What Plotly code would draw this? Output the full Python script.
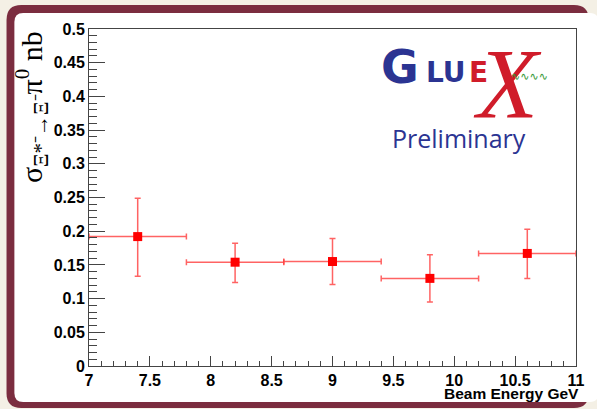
import plotly.graph_objects as go

# ---- data ----
beam_energy = [7.4, 8.2, 9.0, 9.8, 10.6]
bin_half_width = [0.4, 0.4, 0.4, 0.4, 0.4]
cross_section = [0.192, 0.154, 0.155, 0.130, 0.167]
err_plus = [0.057, 0.028, 0.034, 0.035, 0.036]
err_minus = [0.059, 0.030, 0.034, 0.035, 0.037]

x_ticks = [7, 7.5, 8, 8.5, 9, 9.5, 10, 10.5, 11]
x_tick_text = ["7", "7.5", "8", "8.5", "9", "9.5", "10", "10.5", "11"]
y_ticks = [0, 0.05, 0.1, 0.15, 0.2, 0.25, 0.3, 0.35, 0.4, 0.45, 0.5]
y_tick_text = ["0", "0.05", "0.1", "0.15", "0.2", "0.25", "0.3", "0.35", "0.4", "0.45", "0.5"]

W, H = 597, 409
ML, MR, MT, MB = 89, 12, 29, 43
PW, PH = W - ML - MR, H - MT - MB


def px(x):
    return (x - ML) / PW


def py(y):
    return (H - MB - y) / PH


def rounded_rect(x0, y0, x1, y1, r):
    pts = [
        f"M {px(x0 + r)},{py(y0)}",
        f"L {px(x1 - r)},{py(y0)}",
        f"Q {px(x1)},{py(y0)} {px(x1)},{py(y0 + r)}",
        f"L {px(x1)},{py(y1 - r)}",
        f"Q {px(x1)},{py(y1)} {px(x1 - r)},{py(y1)}",
        f"L {px(x0 + r)},{py(y1)}",
        f"Q {px(x0)},{py(y1)} {px(x0)},{py(y1 - r)}",
        f"L {px(x0)},{py(y0 + r)}",
        f"Q {px(x0)},{py(y0)} {px(x0 + r)},{py(y0)}",
        "Z",
    ]
    return " ".join(pts)


red_err = "rgba(255,60,60,0.8)"

fig = go.Figure()
fig.add_trace(go.Scatter(
    x=beam_energy, y=cross_section, mode="markers",
    marker=dict(symbol="square", size=9, color="#ff0000"),
    error_x=dict(type="data", array=bin_half_width, symmetric=True,
                 color=red_err, thickness=1.5, width=3),
    error_y=dict(type="data", array=err_plus, arrayminus=err_minus, symmetric=False,
                 color=red_err, thickness=1.5, width=3),
    showlegend=False,
))

shapes = [
    dict(type="path", xref="paper", yref="paper", layer="below",
         path=rounded_rect(5, 5, 598, 408, 15), fillcolor="#7b2d3f", line=dict(width=0)),
    dict(type="path", xref="paper", yref="paper", layer="below",
         path=rounded_rect(13, 13, 608, 402, 9), fillcolor="white", line=dict(width=0)),
]

blue = "#2b3492"
red = "#d01c2a"


def ann(text, x, y, size, color, family, **kw):
    d = dict(text=text, x=px(x), y=py(y), xref="paper", yref="paper", showarrow=False,
             xanchor="center", yanchor="middle",
             font=dict(family=family, size=size, color=color))
    d.update(kw)
    return d


annotations = [
    ann("σ<sub>Ξ*⁻→Ξ⁻</sub>π<sup>0</sup> nb", 30, 107, 30, "black", "Liberation Serif",
        textangle=-90),
    ann("<b>Beam Energy GeV</b>", 590, 393, 15.5, "black", "Liberation Sans", xanchor="right"),
    # GlueX logo
    ann("<b>G</b>", 406, 67, 46, blue, "DejaVu Sans"),
    ann("<b>LU</b>", 453, 73, 28, blue, "DejaVu Sans"),
    ann("<b>E</b>", 486, 73, 28, red, "DejaVu Sans"),
    ann("<i>X</i>", 515, 83, 100, red, "Liberation Serif"),
    ann("∿∿∿∿", 538, 76, 11, "#3a9a3a", "DejaVu Sans"),
    ann("Preliminary", 466, 138, 25, blue, "Open Sans"),
]

axis_common = dict(
    showgrid=False, zeroline=False, showline=True, linecolor="#444", linewidth=1,
    mirror=True, ticks="inside", tickcolor="#444",
    tickfont=dict(family="Liberation Sans", size=16, color="black"),
)

fig.update_layout(
    width=W, height=H,
    margin=dict(l=ML, r=MR, t=MT, b=MB),
    paper_bgcolor="#f4f0e5", plot_bgcolor="white",
    shapes=shapes, annotations=annotations,
    xaxis=dict(range=[7, 11], tickvals=x_ticks, ticktext=[f"<b>{t}</b>" for t in x_tick_text],
               ticklen=10, tickwidth=1,
               minor=dict(dtick=0.1, ticks="inside", ticklen=5, tickcolor="#444", showgrid=False),
               **axis_common),
    yaxis=dict(range=[0, 0.5], tickvals=y_ticks, ticktext=[f"<b>{t}</b>" for t in y_tick_text],
               ticklen=16, tickwidth=1,
               minor=dict(dtick=0.01, ticks="inside", ticklen=8, tickcolor="#444", showgrid=False),
               **axis_common),
)

fig.write_html("out.html")
